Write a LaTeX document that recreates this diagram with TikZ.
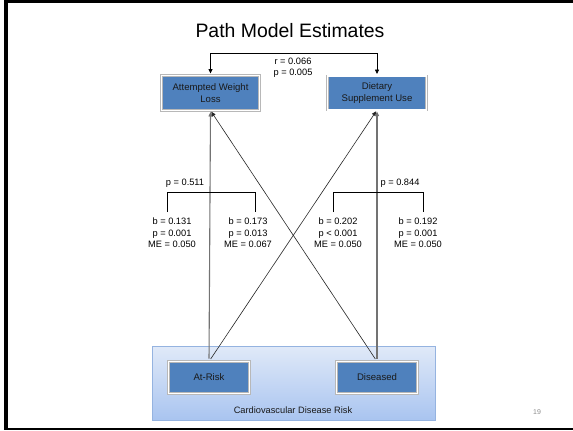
\documentclass[tikz,border=0pt]{standalone}
\usepackage{fontspec}
\setmainfont{Liberation Sans}
\usetikzlibrary{arrows.meta,shadows}
\definecolor{boxblue}{HTML}{4F81BD}
\definecolor{riskedge}{HTML}{95B3E0}
\definecolor{risktop}{HTML}{E0E9F8}
\definecolor{riskbot}{HTML}{A9C4F0}
\begin{document}
\begin{tikzpicture}[x=1bp,y=-1bp,
  blubox/.style={draw=black!28, line width=0.6bp, double=white, double distance=1.6bp,
    fill=boxblue, align=center,
    text=black!90, outer sep=0pt, inner sep=1bp,
    font=\fontsize{9.6}{11.5}\selectfont,
    general shadow={shadow xshift=1.2bp, shadow yshift=-1.4bp, fill=black!22}},
  lbl/.style={align=center, font=\fontsize{9.3}{11.4}\selectfont, inner sep=0pt},
  tip/.style={-{Triangle[length=4.5bp,width=4bp]}},
  vline/.style={draw=black!55, line width=1.1bp, tip},
  dline/.style={draw=black!85, line width=0.6bp, tip},
  brk/.style={draw=black, line width=0.8bp}]
\useasboundingbox (0,0) rectangle (573,430);
\fill[white] (0,0) rectangle (573,430);
\fill[black] (4,0) rectangle (8,430);
\fill[black] (4,0) rectangle (573,3);
\fill[black] (4,428) rectangle (573,430);

\node[font=\fontsize{19.5}{22}\selectfont] (title) at (290,31) {Path Model Estimates};

% bottom risk box
\node[draw=riskedge, line width=0.8bp, top color=risktop, bottom color=riskbot,
  minimum width=283bp, minimum height=74bp, inner sep=0pt,
  general shadow={shadow xshift=1bp, shadow yshift=-1bp, fill=black!18}] (cvd) at (293.5,383) {};
\node[font=\fontsize{9.3}{10}\selectfont, text=black!90] (cvdlbl) at (293,410) {Cardiovascular Disease Risk};

\node[blubox, minimum width=98bp, minimum height=35bp] (awl) at (210.5,93) {Attempted Weight\\Loss};
\node[blubox, minimum width=99bp, minimum height=34bp] (dsu) at (377,93) {Dietary\\Supplement Use};
\node[blubox, minimum width=81bp, minimum height=32bp] (ar) at (209,377.5) {At-Risk};
\node[blubox, minimum width=81bp, minimum height=32bp] (dis) at (377,377.5) {Diseased};

% top correlation bracket
\draw[brk, line width=0.8bp, {Triangle[length=4.5bp,width=4bp]}-{Triangle[length=4.5bp,width=4bp]}, shorten <=2bp, shorten >=2bp]
  (awl.north) -- ++(0,-21.7) -| (dsu.north);
\node[lbl] (rp) at (293,67.5) {r = 0.066\\p = 0.005};

% paths
\draw[vline, shorten <=3bp, shorten >=1.5bp] (ar.north) -- (awl.south);
\draw[dline, shorten <=3bp, shorten >=1.5bp] (ar.north) -- (dsu.south);
\draw[dline, shorten <=3bp, shorten >=1.5bp] (dis.north) -- (awl.south);
\draw[vline, shorten <=3bp, shorten >=1.5bp] (dis.north) -- (dsu.south);

% estimates
\node[lbl] (b1) at (172,233) {b = 0.131\\p = 0.001\\ME = 0.050};
\node[lbl] (b2) at (248,233) {b = 0.173\\p = 0.013\\ME = 0.067};
\node[lbl] (b3) at (338,233) {b = 0.202\\p {\textless} 0.001\\ME = 0.050};
\node[lbl] (b4) at (418,233) {b = 0.192\\p = 0.001\\ME = 0.050};
\node[lbl] (p1) at (185,183.5) {p = 0.511};
\node[lbl] (p2) at (400,183.5) {p = 0.844};

\coordinate (l1) at (167,212);
\coordinate (l2) at (255,212);
\coordinate (r1) at (333.5,212);
\coordinate (r2) at (423.5,212);
\draw[brk] (l1) -- ++(0,-19.5) -| (l2);
\draw[brk] (r1) -- ++(0,-19.5) -| (r2);

\node[font=\fontsize{7}{8}\selectfont, text=black!45] (pg) at (537,412) {19};
\end{tikzpicture}
\end{document}
